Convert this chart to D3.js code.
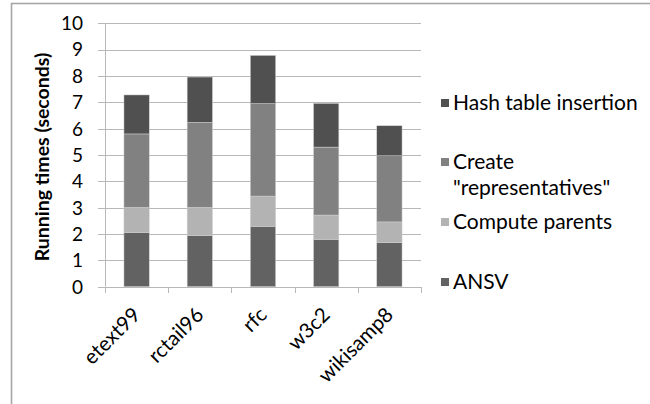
<!DOCTYPE html>
<html>
<head>
<meta charset="utf-8">
<script src="https://cdn.jsdelivr.net/npm/d3@7"></script>
<style>
  body { margin: 0; background: white; }
  svg { display: block; font-family: Lato, "Open Sans", sans-serif; }
</style>
</head>
<body>
<svg id="chart"></svg>
<script>
// data
var categories = ["etext99", "rctail96", "rfc", "w3c2", "wikisamp8"];
var ansv       = [2.05, 1.94, 2.29, 1.80, 1.67];
var parents    = [0.96, 1.07, 1.15, 0.92, 0.79];
var reps       = [2.79, 3.23, 3.51, 2.58, 2.51];
var hashIns    = [1.48, 1.72, 1.83, 1.66, 1.14];
var seriesNames = ["ANSV", "Compute parents", "Create \"representatives\"", "Hash table insertion"];
var seriesColors = ["#626262", "#b3b3b3", "#818181", "#505050"];
var yTicks = [0, 1, 2, 3, 4, 5, 6, 7, 8, 9, 10];

var width = 650, height = 404;
var svg = d3.select("#chart")
    .attr("width", width)
    .attr("height", height);

// outer frame
svg.append("rect")
    .attr("x", 11.5).attr("y", 3.5)
    .attr("width", 700).attr("height", 500)
    .attr("fill", "none")
    .attr("stroke", "#a6a6a6")
    .attr("stroke-width", 1.6);

var rows = categories.map(function (c, i) {
    return { cat: c, s0: ansv[i], s1: parents[i], s2: reps[i], s3: hashIns[i] };
});
var stack = d3.stack().keys(["s0", "s1", "s2", "s3"])(rows);

var xScale = d3.scaleBand()
    .domain(categories)
    .range([105, 421])
    .paddingInner(0.6)
    .paddingOuter(0.3);

var yScale = d3.scaleLinear()
    .domain([0, 10])
    .range([286.7, 23.3]);

// gridlines + y ticks
svg.append("g")
    .selectAll("line")
    .data(yTicks)
    .join("line")
    .attr("x1", 98)
    .attr("x2", 421)
    .attr("y1", d => Math.round(yScale(d)) + 0.5)
    .attr("y2", d => Math.round(yScale(d)) + 0.5)
    .attr("stroke", "#b8b8b8")
    .attr("stroke-width", 1);

svg.append("g")
    .selectAll("text")
    .data(yTicks)
    .join("text")
    .attr("x", 83)
    .attr("y", d => yScale(d))
    .attr("dy", "0.36em")
    .attr("text-anchor", "end")
    .style("font-size", "19px")
    .style("fill", "#000")
    .text(d => d);

// y axis line
svg.append("line")
    .attr("x1", 105.5).attr("x2", 105.5)
    .attr("y1", yScale(10)).attr("y2", yScale(0))
    .attr("stroke", "#b8b8b8");

// bars
svg.append("g")
    .selectAll("g")
    .data(stack)
    .join("g")
    .attr("fill", (d, i) => seriesColors[i])
    .selectAll("rect")
    .data(d => d)
    .join("rect")
    .attr("x", d => xScale(d.data.cat))
    .attr("width", xScale.bandwidth())
    .attr("y", d => yScale(d[1]))
    .attr("height", d => yScale(d[0]) - yScale(d[1]))
    .attr("stroke", "#d0d0d0")
    .attr("stroke-width", 0.5);

// x axis line and category ticks
var step = (421 - 105) / categories.length;
svg.append("line")
    .attr("x1", 105).attr("x2", 421)
    .attr("y1", 287.5).attr("y2", 287.5)
    .attr("stroke", "#b8b8b8");

svg.append("g")
    .selectAll("line")
    .data(d3.range(categories.length + 1))
    .join("line")
    .attr("x1", d => Math.round(105 + d * step) + 0.5)
    .attr("x2", d => Math.round(105 + d * step) + 0.5)
    .attr("y1", 287)
    .attr("y2", 293)
    .attr("stroke", "#b8b8b8");

svg.append("g")
    .selectAll("text")
    .data(categories)
    .join("text")
    .attr("transform", d => "translate(" + (xScale(d) + xScale.bandwidth() / 2) + ",311) rotate(-45)")
    .attr("text-anchor", "end")
    .attr("dy", "0.35em")
    .style("font-size", "20.5px")
    .text(d => d);

// y axis title
svg.append("text")
    .attr("transform", "translate(42,157) rotate(-90)")
    .attr("text-anchor", "middle")
    .attr("dy", "0.35em")
    .style("font-size", "19.5px")
    .style("font-weight", "bold")
    .text("Running times (seconds)");

// legend
var legendItems = [
    { name: "Hash table insertion", color: seriesColors[3], y: 103, lines: ["Hash table insertion"] },
    { name: seriesNames[2], color: seriesColors[2], y: 162, lines: ["Create", "\"representatives\""] },
    { name: seriesNames[1], color: seriesColors[1], y: 222, lines: ["Compute parents"] },
    { name: seriesNames[0], color: seriesColors[0], y: 282, lines: ["ANSV"] }
];
var leg = svg.append("g")
    .selectAll("g")
    .data(legendItems)
    .join("g");

leg.append("rect")
    .attr("x", 441)
    .attr("y", d => d.y - 4)
    .attr("width", 8)
    .attr("height", 8)
    .attr("fill", d => d.color);

leg.append("text")
    .attr("x", 453)
    .attr("y", d => d.y)
    .style("font-size", "21px")
    .selectAll("tspan")
    .data(d => d.lines)
    .join("tspan")
    .attr("x", 453)
    .attr("dy", (d, i) => i == 0 ? "0.35em" : "1.2em")
    .text(d => d);
</script>
</body>
</html>
